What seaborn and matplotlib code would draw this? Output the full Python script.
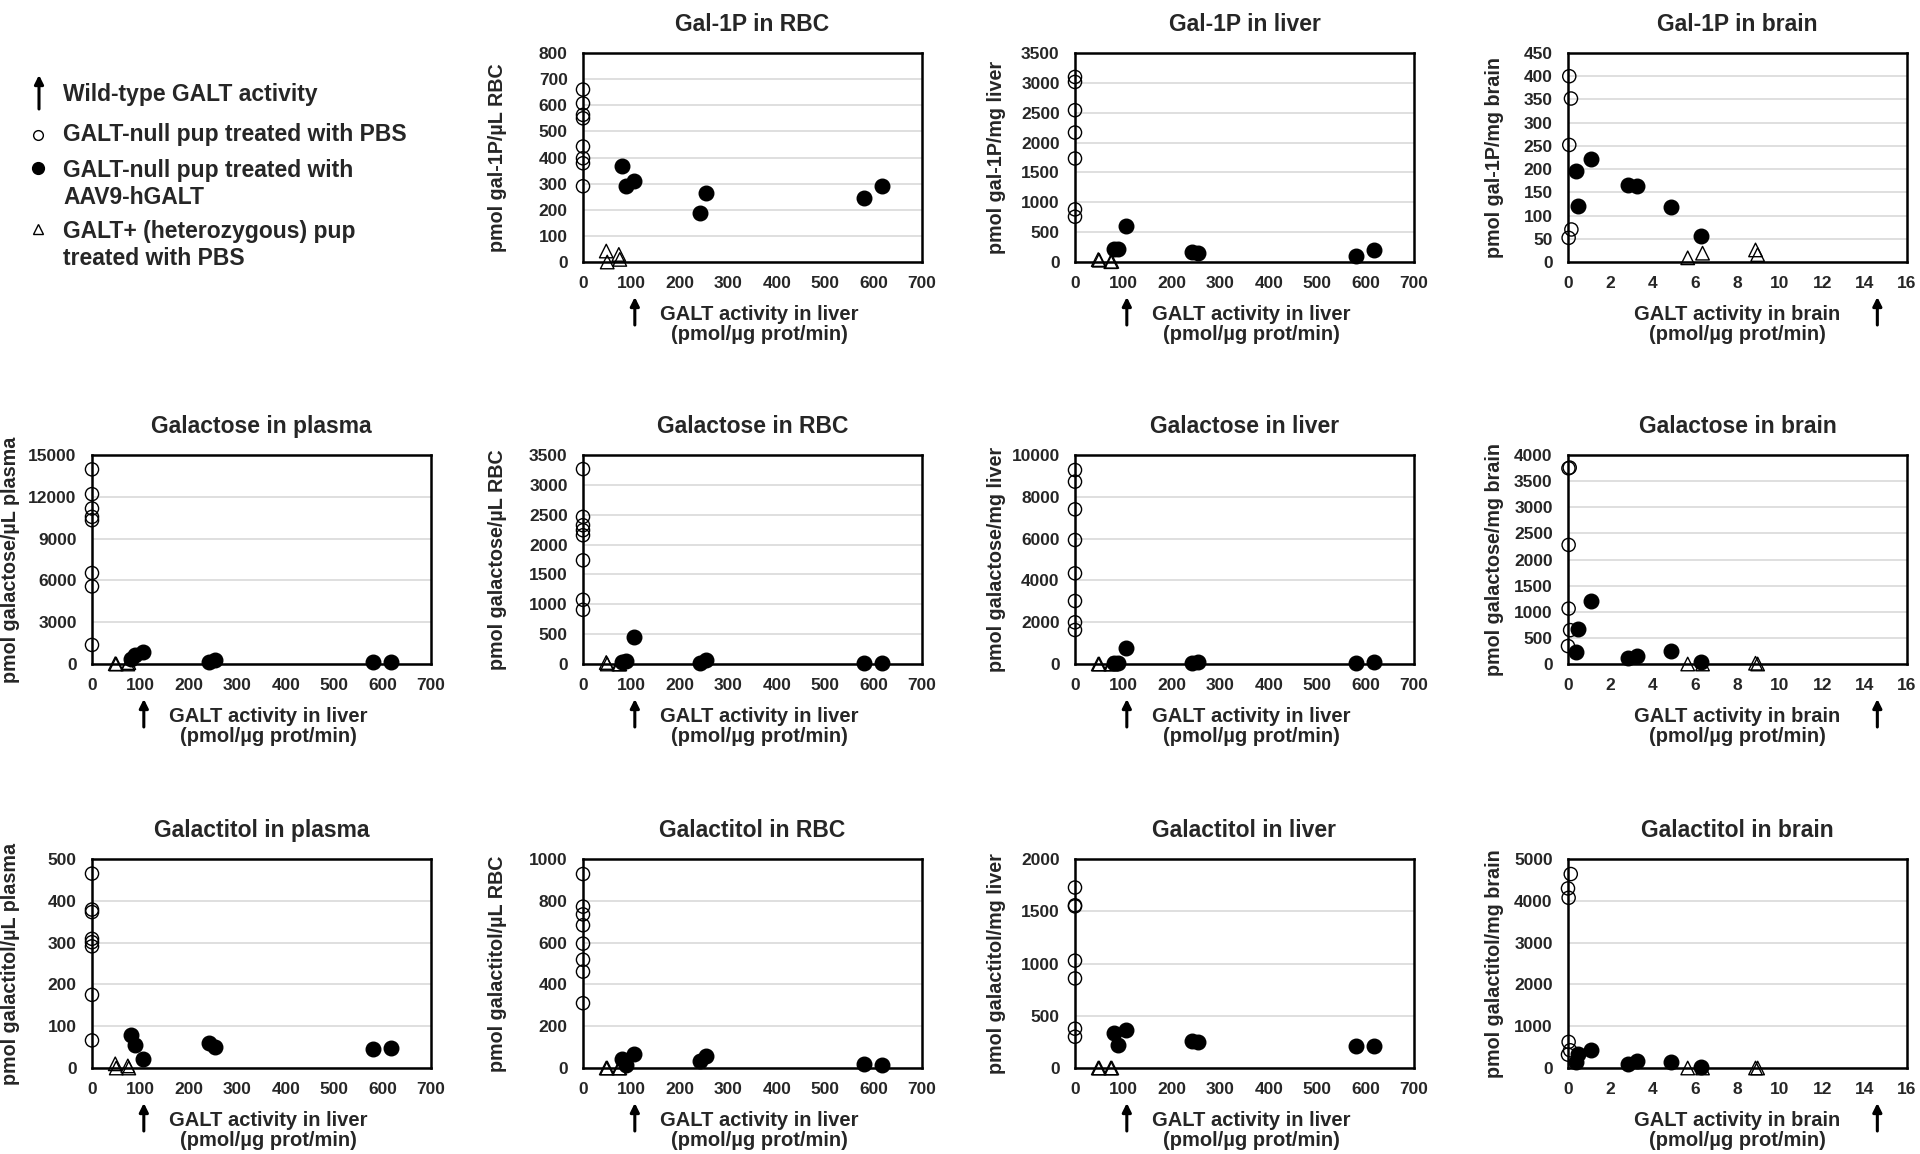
import numpy as np
import matplotlib
matplotlib.use('Agg')
import matplotlib.pyplot as plt
import seaborn as sns

# GALT activity (x axis) per group
liver_act_aav = [80, 88, 106, 241, 255, 580, 617]
liver_act_het = [48, 50, 74, 76]
brain_act_aav = [0.38, 0.45, 1.08, 2.82, 3.28, 4.85, 6.30]
brain_act_het = [5.65, 6.35, 8.85, 8.95]
wt_liver_act = 107
wt_brain_act = 14.6

# Gal-1P
gal1p_rbc_pbs = [660, 607, 563, 550, 442, 397, 378, 290]
gal1p_rbc_aav = [366, 290, 309, 188, 264, 244, 290]
gal1p_rbc_het = [42, 0, 29, 10]
gal1p_liver_pbs = [3099, 3015, 2542, 2168, 1733, 881, 758]
gal1p_liver_aav = [212, 212, 602, 173, 156, 100, 200]
gal1p_liver_het = [40, 30, 5, 10]
gal1p_brain_pbs_x = [0.06, 0.14, 0.06, 0.16, 0.03]
gal1p_brain_pbs = [400, 352, 252, 70, 52]
gal1p_brain_aav = [195, 121, 221, 166, 164, 119, 56]
gal1p_brain_het = [9, 19, 26, 16]

# Galactose
galactose_plasma_pbs = [13968, 12192, 11160, 10560, 10320, 6528, 5568, 1368]
galactose_plasma_aav = [360, 648, 840, 120, 288, 120, 120]
galactose_plasma_het = [20, 0, 0, 100]
galactose_rbc_pbs = [3264, 2464, 2324, 2240, 2156, 1736, 1075, 907]
galactose_rbc_aav = [28, 56, 448, 11, 67, 17, 17]
galactose_rbc_het = [25, 0, 0, 0]
galactose_liver_pbs = [9282, 8724, 7400, 5933, 4338, 3014, 1994, 1627]
galactose_liver_aav = [64, 64, 781, 32, 80, 32, 80]
galactose_liver_het = [0, 0, 0, 0]
galactose_brain_pbs_x = [0.08, 0.02, 0.03, 0.03, 0.10, 0.0]
galactose_brain_pbs = [3759, 3746, 2279, 1060, 648, 343]
galactose_brain_aav = [235, 679, 1200, 108, 152, 254, 44]
galactose_brain_het = [0, 0, 15, 0]

# Galactitol
galactitol_plasma_pbs = [465, 379, 373, 309, 301, 291, 175, 66]
galactitol_plasma_aav = [79, 54, 22, 59, 51, 46, 48]
galactitol_plasma_het = [10, 0, 5, 0]
galactitol_rbc_pbs = [928, 772, 735, 683, 595, 518, 461, 310]
galactitol_rbc_aav = [43, 13, 68, 32, 59, 19, 13]
galactitol_rbc_het = [0, 0, 0, 0]
galactitol_liver_pbs = [1727, 1557, 1547, 1027, 857, 376, 299]
galactitol_liver_aav = [331, 218, 363, 263, 247, 209, 209]
galactitol_liver_het = [0, 0, 0, 0]
galactitol_brain_pbs_x = [0.13, 0.0, 0.03, 0.03, 0.10, 0.0]
galactitol_brain_pbs = [4640, 4296, 4072, 624, 424, 320]
galactitol_brain_aav = [136, 336, 424, 96, 160, 136, 24]
galactitol_brain_het = [0, 0, 0, 0]

sns.set_theme(style='white')
plt.rcParams['font.family'] = ['Liberation Sans', 'DejaVu Sans']
plt.rcParams['font.weight'] = 'bold'
plt.rcParams['axes.titleweight'] = 'bold'
plt.rcParams['axes.labelweight'] = 'bold'

W, H = 1920, 1154
col_left = [92, 583, 1075, 1568]
row_top = [53, 455, 859]
ax_w, ax_h = 339, 209
ylabel_off = [82, 86, 79, 74]

fig = plt.figure(figsize=(W / 100, H / 100), dpi=100)


def draw_panel(r, c, title, ylabel, organ, ymax, ystep, pbs_y, aav_y, het_y, pbs_x=None):
    ax = fig.add_axes([col_left[c] / W, 1 - (row_top[r] + ax_h) / H, ax_w / W, ax_h / H])
    if organ == 'liver':
        x_aav, x_het, x_wt, xmax, xstep = liver_act_aav, liver_act_het, wt_liver_act, 700, 100
        xlab_x = 0.52
    else:
        x_aav, x_het, x_wt, xmax, xstep = brain_act_aav, brain_act_het, wt_brain_act, 16, 2
        xlab_x = 0.5
    if pbs_x is None:
        pbs_x = [0] * len(pbs_y)

    ax.set_axisbelow(True)
    ax.grid(axis='y', color='#d9d9d9', lw=1.2)
    ax.grid(axis='x', visible=False)

    sns.scatterplot(x=pbs_x, y=pbs_y, ax=ax, marker='o', s=90, color='none',
                    edgecolor='black', linewidth=1.0, clip_on=False, zorder=3)
    sns.scatterplot(x=x_aav, y=aav_y, ax=ax, marker='o', s=110, color='black',
                    edgecolor='black', linewidth=1.0, clip_on=False, zorder=4)
    sns.scatterplot(x=x_het, y=het_y, ax=ax, marker='^', s=95, color='none',
                    edgecolor='black', linewidth=1.0, clip_on=False, zorder=3)

    ax.set_xlim(0, xmax)
    ax.set_ylim(0, ymax)
    ax.set_xticks(np.arange(0, xmax + xstep / 2, xstep))
    ax.set_yticks(np.arange(0, ymax + ystep / 2, ystep))
    ax.tick_params(axis='both', length=0, labelsize=12.5)
    ax.tick_params(axis='x', pad=10)
    ax.tick_params(axis='y', pad=11)
    for sp in ax.spines.values():
        sp.set_visible(True)
        sp.set_color('black')
        sp.set_linewidth(1.8)

    ax.set_title(title, fontsize=16.5, pad=16)
    ax.set_ylabel(ylabel, fontsize=14.2)
    ax.yaxis.set_label_coords(-(ylabel_off[c] - 10) / ax_w, 0.5)
    ax.set_xlabel(f'GALT activity in {organ}\n(pmol/µg prot/min)', fontsize=14.5, linespacing=1.08)
    ax.xaxis.set_label_coords(xlab_x, -43 / ax_h)

    # wild-type GALT activity marker
    tr = ax.get_xaxis_transform()
    ax.annotate('', xy=(x_wt, -35 / ax_h), xytext=(x_wt, -63 / ax_h),
                xycoords=tr, textcoords=tr, annotation_clip=False,
                arrowprops=dict(arrowstyle='-|>', color='black', lw=2.2,
                                mutation_scale=13, shrinkA=0, shrinkB=0))
    return ax


draw_panel(0, 1, 'Gal-1P in RBC', 'pmol gal-1P/µL RBC', 'liver', 800, 100,
           gal1p_rbc_pbs, gal1p_rbc_aav, gal1p_rbc_het)
draw_panel(0, 2, 'Gal-1P in liver', 'pmol gal-1P/mg liver', 'liver', 3500, 500,
           gal1p_liver_pbs, gal1p_liver_aav, gal1p_liver_het)
draw_panel(0, 3, 'Gal-1P in brain', 'pmol gal-1P/mg brain', 'brain', 450, 50,
           gal1p_brain_pbs, gal1p_brain_aav, gal1p_brain_het, gal1p_brain_pbs_x)

draw_panel(1, 0, 'Galactose in plasma', 'pmol galactose/µL plasma', 'liver', 15000, 3000,
           galactose_plasma_pbs, galactose_plasma_aav, galactose_plasma_het)
draw_panel(1, 1, 'Galactose in RBC', 'pmol galactose/µL RBC', 'liver', 3500, 500,
           galactose_rbc_pbs, galactose_rbc_aav, galactose_rbc_het)
draw_panel(1, 2, 'Galactose in liver', 'pmol galactose/mg liver', 'liver', 10000, 2000,
           galactose_liver_pbs, galactose_liver_aav, galactose_liver_het)
draw_panel(1, 3, 'Galactose in brain', 'pmol galactose/mg brain', 'brain', 4000, 500,
           galactose_brain_pbs, galactose_brain_aav, galactose_brain_het, galactose_brain_pbs_x)

draw_panel(2, 0, 'Galactitol in plasma', 'pmol galactitol/µL plasma', 'liver', 500, 100,
           galactitol_plasma_pbs, galactitol_plasma_aav, galactitol_plasma_het)
draw_panel(2, 1, 'Galactitol in RBC', 'pmol galactitol/µL RBC', 'liver', 1000, 200,
           galactitol_rbc_pbs, galactitol_rbc_aav, galactitol_rbc_het)
draw_panel(2, 2, 'Galactitol in liver', 'pmol galactitol/mg liver', 'liver', 2000, 500,
           galactitol_liver_pbs, galactitol_liver_aav, galactitol_liver_het)
draw_panel(2, 3, 'Galactitol in brain', 'pmol galactitol/mg brain', 'brain', 5000, 1000,
           galactitol_brain_pbs, galactitol_brain_aav, galactitol_brain_het, galactitol_brain_pbs_x)

# legend block, in pixel units of the top-left corner
lax = fig.add_axes([0, 1 - 330 / H, 480 / W, 330 / H])
lax.set_xlim(0, 480)
lax.set_ylim(330, 0)
lax.axis('off')
lax.annotate('', xy=(39, 75), xytext=(39, 109), annotation_clip=False,
             arrowprops=dict(arrowstyle='-|>', color='black', lw=2.2,
                             mutation_scale=13, shrinkA=0, shrinkB=0))
lax.plot([38], [135], marker='o', ms=7, mfc='none', mec='black', mew=1.0)
lax.plot([38], [168], marker='o', ms=8.5, mfc='black', mec='black')
lax.plot([38], [229], marker='^', ms=7, mfc='none', mec='black', mew=1.0)
leg_kw = dict(fontsize=16.5, va='center', ha='left', linespacing=1.18)
lax.text(63, 95, 'Wild-type GALT activity', **leg_kw)
lax.text(63, 134, 'GALT-null pup treated with PBS', **leg_kw)
lax.text(63, 184, 'GALT-null pup treated with\nAAV9-hGALT', **leg_kw)
lax.text(63, 245, 'GALT+ (heterozygous) pup\ntreated with PBS', **leg_kw)

fig.savefig('out.png', dpi=100, facecolor='white')
